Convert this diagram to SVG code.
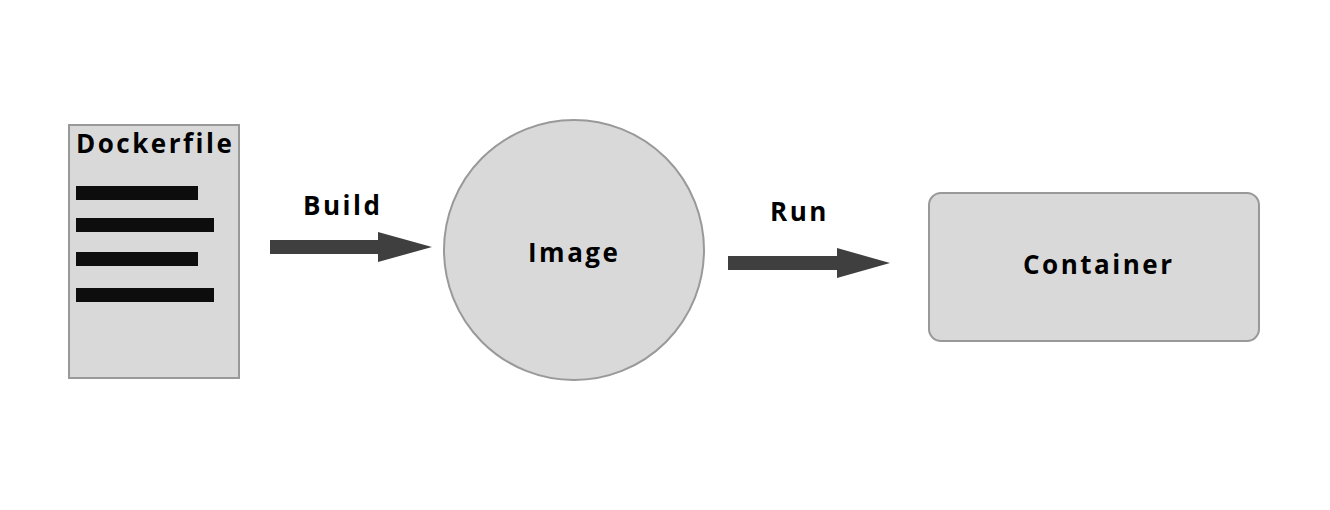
<svg xmlns="http://www.w3.org/2000/svg" width="1330" height="510" viewBox="0 0 1330 510">
<style>
.node{fill:#d9d9d9;stroke:#999999;stroke-width:2}
.lbl{font-family:"Open Sans","Liberation Sans",sans-serif;font-weight:bold;font-size:26px;letter-spacing:2.5px;fill:#000}
.bar{fill:#0d0d0d}
.arrow{fill:#3f3f3f}
</style>
<rect width="1330" height="510" fill="#ffffff"/>
<g id="dockerfile">
<rect class="node" x="69" y="125" width="170" height="253"/>
<text class="lbl" x="76" y="153">Dockerfile</text>
<rect class="bar" x="76" y="186" width="122" height="14"/>
<rect class="bar" x="76" y="218" width="138" height="14"/>
<rect class="bar" x="76" y="252" width="122" height="14"/>
<rect class="bar" x="76" y="288" width="138" height="14"/>
</g>
<g id="image">
<circle class="node" cx="574" cy="250" r="130"/>
<text class="lbl" x="528" y="262">Image</text>
</g>
<g id="container">
<rect class="node" x="929" y="193" width="330" height="148" rx="12" ry="12"/>
<text class="lbl" x="1023" y="274">Container</text>
</g>
<g id="connectors">
<g id="build">
<path class="arrow" d="M270 240 H378 V232 L432 247 L378 262 V254 H270 Z"/>
<text class="lbl" x="303" y="215">Build</text>
</g>
<g id="run">
<path class="arrow" d="M728 256 H837 V248 L890 263 L837 278 V270 H728 Z"/>
<text class="lbl" x="770" y="221">Run</text>
</g>
</g>
</svg>
